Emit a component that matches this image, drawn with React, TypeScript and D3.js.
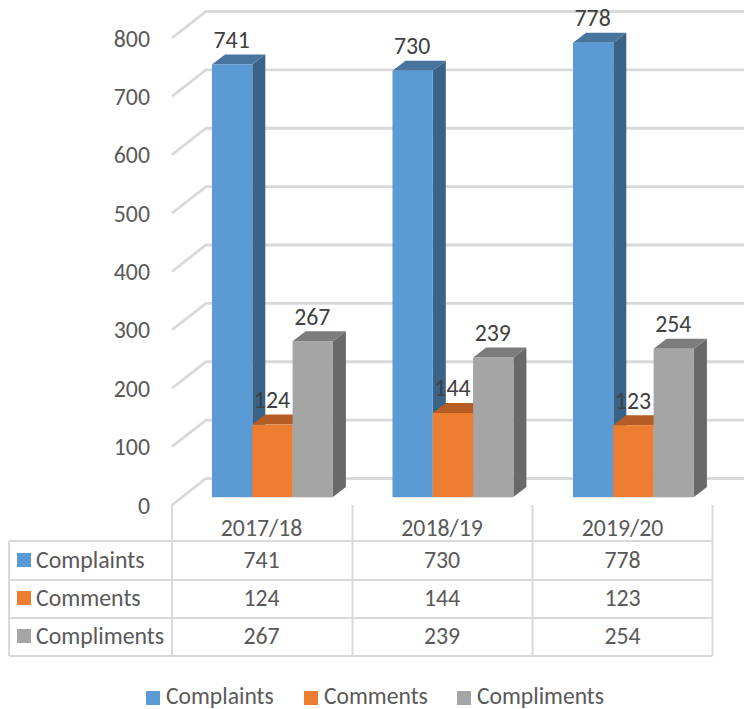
import React from "react";
import * as d3 from "d3";

const categories = ["2017/18", "2018/19", "2019/20"];
const seriesNames = ["Complaints", "Comments", "Compliments"];
const complaints = [741, 730, 778];
const comments = [124, 144, 123];
const compliments = [267, 239, 254];
const seriesValues = [complaints, comments, compliments];
const yTicks = [0, 100, 200, 300, 400, 500, 600, 700, 800];
const frontColors = ["#5B9BD5", "#ED7D31", "#A5A5A5"];
const topColors = ["#47759F", "#B55D25", "#7C7C7C"];
const sideColors = ["#3A6387", "#9C5020", "#696969"];
const legendX = [146, 304, 457];

const font = "Carlito, Calibri, 'Open Sans', sans-serif";
const fs = 23.8;
const W = 744, H = 709;
const y = d3.scaleLinear().domain([0, 800]).range([497, 30]);
const catX = d3.scaleBand().domain(categories).range([172, 713.5]).padding(0);
const barW = 40.3;
const dx = 13, dy = -10;
const wallDx = 34, wallDy = -26.5;
const grid = "#D9D9D9";
const rowLines = [541, 580, 618, 656];
const tableX = [9, 172, 352.5, 532.5, 712.5];
const rowCenters = [560, 598, 636];

function App() {
  const barX = (c: number, s: number) => catX(categories[c])! + 40 + s * barW;
  return (
    <svg width={W} height={H} style={{ position: "absolute", left: 0, top: 0, background: "#fff" }} fontFamily={font}>
      {yTicks.map((t) => {
        const fy = y(t) + 8;
        const by = fy + wallDy;
        return (
          <g key={t}>
            <polyline
              points={`172,${fy} ${172 + wallDx},${by} ${W},${by}`}
              fill="none"
              stroke={grid}
              strokeWidth={2.8}
            />
            <text x={150} y={fy + 8.5} textAnchor="end" fontSize={fs} fill="#595959">{t}</text>
          </g>
        );
      })}
      {categories.map((cat, c) =>
        seriesValues.map((vals, s) => {
          const x0 = barX(c, s), x1 = x0 + barW;
          const t = y(vals[c]), b = y(0);
          return (
            <g key={cat + s}>
              <path d={`M${x1},${t}L${x1 + dx},${t + dy}L${x1 + dx},${b + dy}L${x1},${b}Z`} fill={sideColors[s]} />
              <path d={`M${x0},${t}L${x0 + dx},${t + dy}L${x1 + dx},${t + dy}L${x1},${t}Z`} fill={topColors[s]} />
              <rect x={x0} y={t} width={barW} height={b - t} fill={frontColors[s]} />
            </g>
          );
        })
      )}
      <line x1={212} x2={333} y1={497.5} y2={497.5} stroke="#E3E3E3" strokeWidth={1} />
      <line x1={393} x2={513} y1={497.5} y2={497.5} stroke="#E3E3E3" strokeWidth={1} />
      <line x1={573} x2={693} y1={497.5} y2={497.5} stroke="#E3E3E3" strokeWidth={1} />
      {categories.map((cat, c) =>
        seriesValues.map((vals, s) => (
          <text
            key={cat + s}
            x={barX(c, s) + barW / 2 - 0.5}
            y={y(vals[c]) - 16.5}
            textAnchor="middle"
            fontSize={fs}
            fill="#404040"
          >
            {vals[c]}
          </text>
        ))
      )}
      {/* data table */}
      {rowLines.map((ly) => (
        <line key={ly} x1={tableX[0]} x2={tableX[4]} y1={ly} y2={ly} stroke={grid} strokeWidth={2} />
      ))}
      {tableX.map((lx, i) => (
        <line key={lx} x1={lx} x2={lx} y1={i === 0 ? 541 : 505} y2={656} stroke={grid} strokeWidth={2} />
      ))}
      {categories.map((cat, c) => (
        <text key={cat} x={catX(cat)! + catX.bandwidth() / 2 - 0.7} y={535.5} textAnchor="middle" fontSize={fs} fill="#595959">{cat}</text>
      ))}
      {seriesNames.map((name, s) => (
        <g key={name}>
          <rect x={17} y={rowCenters[s] - 7} width={14} height={14} fill={frontColors[s]} />
          <text x={36} y={rowCenters[s] + 8} fontSize={fs} fill="#595959">{name}</text>
          {categories.map((cat, c) => (
            <text key={cat} x={catX(cat)! + catX.bandwidth() / 2 - 0.7} y={rowCenters[s] + 8} textAnchor="middle" fontSize={fs} fill="#595959">
              {seriesValues[s][c]}
            </text>
          ))}
        </g>
      ))}
      {seriesNames.map((name, s) => (
        <g key={name}>
          <rect x={legendX[s]} y={691} width={14} height={14} fill={frontColors[s]} />
          <text x={legendX[s] + 20} y={704} fontSize={23.6} fill="#595959">{name}</text>
        </g>
      ))}
    </svg>
  );
}

export default App;
